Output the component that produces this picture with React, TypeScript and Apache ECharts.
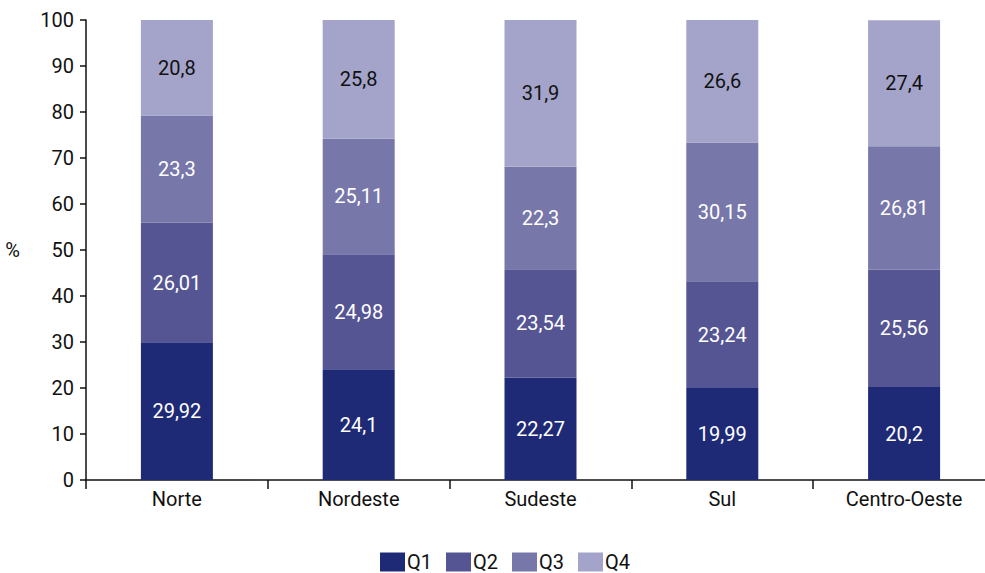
import React, { useEffect, useRef } from "react";
import * as echarts from "echarts";

const categories = ["Norte", "Nordeste", "Sudeste", "Sul", "Centro-Oeste"];
const q1 = [29.92, 24.1, 22.27, 19.99, 20.2];
const q2 = [26.01, 24.98, 23.54, 23.24, 25.56];
const q3 = [23.3, 25.11, 22.3, 30.15, 26.81];
const q4 = [20.8, 25.8, 31.9, 26.6, 27.4];
const seriesNames = ["Q1", "Q2", "Q3", "Q4"];
const colors = ["#1f2a76", "#555594", "#7777aa", "#a4a4ca"];
const labelColors = ["#ffffff", "#ffffff", "#ffffff", "#111111"];

const FONT = "Roboto";
const FS = 20;

export default function App() {
  const ref = useRef<HTMLDivElement>(null);
  useEffect(() => {
    if (!ref.current) return;
    const chart = echarts.init(ref.current, undefined, { renderer: "svg" });
    const data = [q1, q2, q3, q4];
    chart.setOption({
      animation: false,
      textStyle: { fontFamily: FONT },
      grid: {
        left: 86,
        top: 20,
        height: 460,
        width: 909,
        containLabel: false,
        outerBoundsMode: "none",
      },
      legend: {
        top: 552,
        left: 380,
        padding: 0,
        itemWidth: 25,
        itemHeight: 19,
        itemGap: 14,
        icon: "rect",
        textStyle: {
          fontSize: FS,
          lineHeight: 18,
          color: "#111",
          fontFamily: FONT,
          padding: [0, 0, 0, -3],
        },
        data: seriesNames,
      },
      xAxis: {
        type: "category",
        data: categories,
        axisLine: { lineStyle: { color: "#111", width: 1.5 } },
        axisTick: { show: true, length: 9, alignWithLabel: false, lineStyle: { color: "#111", width: 1.5 } },
        axisLabel: { fontSize: FS, color: "#111", margin: 9, fontFamily: FONT },
      },
      yAxis: {
        type: "value",
        min: 0,
        max: 100,
        interval: 10,
        name: "%",
        nameLocation: "middle",
        nameRotate: 0,
        nameGap: 66,
        nameTextStyle: { fontSize: FS, color: "#111", fontFamily: FONT },
        splitLine: { show: false },
        axisLine: { show: true, lineStyle: { color: "#111", width: 1.5 } },
        axisTick: { show: true, length: 6, lineStyle: { color: "#111", width: 1.5 } },
        axisLabel: { fontSize: FS, color: "#111", margin: 12, fontFamily: FONT },
      },
      series: seriesNames.map((name, i) => ({
        name,
        type: "bar",
        stack: "total",
        barWidth: 72,
        itemStyle: { color: colors[i] },
        label: {
          show: true,
          position: "inside",
          color: labelColors[i],
          fontSize: FS,
          fontFamily: FONT,
          formatter: (p: any) => String(p.value).replace(".", ","),
        },
        data: data[i],
      })),
    });
    return () => chart.dispose();
  }, []);
  return (
    <div
      ref={ref}
      style={{ position: "fixed", left: 0, top: 0, width: 985, height: 573, background: "#fff" }}
    />
  );
}
